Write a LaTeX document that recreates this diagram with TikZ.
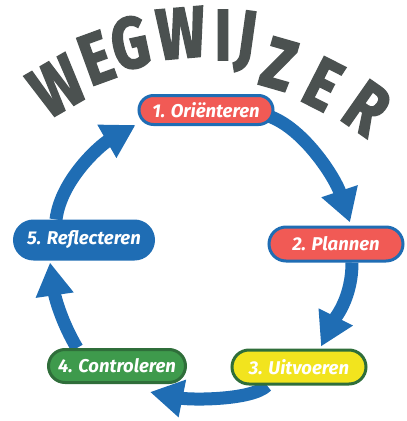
\documentclass[tikz,border=0pt]{standalone}
\usepackage{fontspec}
\setmainfont{Fira Sans}
\newfontfamily\titlefont{Fira Sans}[UprightFeatures={FakeBold=2.5}, BoldFeatures={FakeBold=2.5}]
\usetikzlibrary{shapes.misc,arrows.meta,calc}
\definecolor{cblue}{HTML}{1F6DB4}
\definecolor{cred}{HTML}{F15A55}
\definecolor{cyellow}{HTML}{F2E41E}
\definecolor{cgreen}{HTML}{3E9A4C}
\definecolor{cdkgreen}{HTML}{2F6E3A}
\definecolor{cgray}{HTML}{4B5150}
\pgfdeclarelayer{bg}
\pgfsetlayers{bg,main}
\begin{document}
\begin{tikzpicture}[x=1pt,y=-1pt,
  pill/.style={rounded rectangle, line width=3pt, draw=cblue, text=white,
    font=\fontsize{18.5}{18.5}\selectfont\bfseries\itshape, inner sep=0pt},
  cyc/.style={draw=cblue, line width=13pt, -{Triangle[width=36pt,length=33pt]}},
  letter/.style={text=cgray, font=\titlefont\fontsize{72}{72}\selectfont\bfseries, inner sep=0pt}]
\useasboundingbox (0,0) rectangle (407,421);
% title
\node[letter, rotate=30, xscale=0.8] (t1) at (57,86) {W};
\node[letter, rotate=20, xscale=0.8] (t2) at (96,58) {E};
\node[letter, rotate=12, xscale=0.8] (t3) at (130,43) {G};
\node[letter, rotate=5, xscale=0.8] (t4) at (181,33) {W};
\node[letter, rotate=0, xscale=0.8] (t5) at (223,35) {I};
\node[letter, rotate=-8, xscale=0.8] (t6) at (246,42) {J};
\node[letter, rotate=-16, xscale=0.8] (t7) at (279,64) {Z};
\node[letter, rotate=-27, xscale=0.8] (t8) at (323,84) {E};
\node[letter, rotate=-35, xscale=0.8] (t9) at (367,108) {R};
% steps
\node[pill, fill=cred, minimum width=134pt, minimum height=29pt] (n1) at (206,110) {1. Oriënteren};
\node[pill, fill=cred, minimum width=134pt, minimum height=34pt] (n2) at (336,244) {2. Plannen};
\node[pill, fill=cyellow, draw=cdkgreen, minimum width=134pt, minimum height=34pt] (n3) at (299,367) {3. Uitvoeren};
\node[pill, fill=cgreen, draw=cdkgreen, minimum width=137pt, minimum height=33pt] (n4) at (117,366) {4. Controleren};
\node[pill, fill=cblue, minimum width=139pt, minimum height=38pt] (n5) at (84,240) {5. Reflecteren};
% cycle arrows
\begin{pgfonlayer}{bg}
\draw[cyc] ($(n1.east)+(-6,6)$) .. controls +(35,12) and +(-15,-45) .. ($(n2.north)+(14,-3)$);
\draw[cyc] ($(n2.south)+(16,0)$) .. controls +(0,35) and +(15,-30) .. ($(n3.north)+(22,-2)$);
\draw[cyc] ($(n3.south)+(-32,0)$) .. controls +(-15,15) and +(40,8) .. ($(n4.south)+(33,8)$);
\draw[cyc] ($(n4.north)+(-40,0)$) .. controls +(-15,-25) and +(5,35) .. ($(n5.south)+(-34,2)$);
\draw[cyc] ($(n5.north)+(-28,0)$) .. controls +(5,-40) and +(-35,20) .. ($(n1.west)+(-2,15)$);
\end{pgfonlayer}
\end{tikzpicture}
\end{document}
